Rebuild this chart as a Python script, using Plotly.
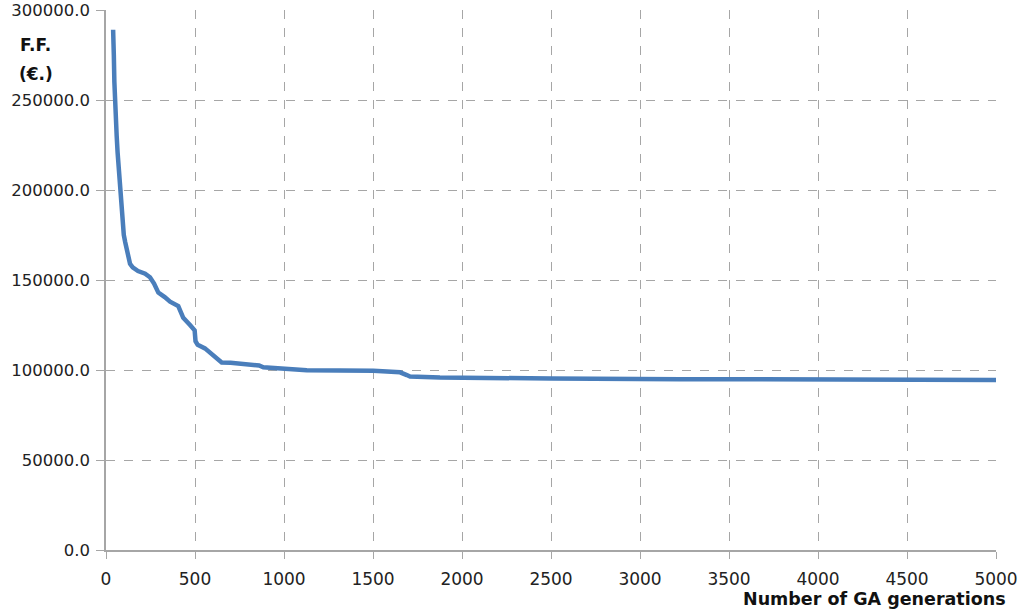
import plotly.graph_objects as go

generations = [40, 42, 44, 47, 50, 55, 60, 65, 70, 75, 80, 85, 90, 95, 100, 108, 116, 125, 135, 150,
               180, 220, 247, 270, 294, 330, 360, 406, 420, 434, 472, 498, 503, 515, 556, 580, 603,
               630, 650, 700, 809, 860, 884, 996, 1128, 1502, 1600, 1652, 1690, 1708, 1876, 2100,
               2500, 3225, 4000, 5000]
fitness = [289000, 285000, 275000, 260000, 250000, 240000, 230000, 221000, 213000, 205000, 199000,
           193000, 187000, 179000, 175000, 171000, 168000, 163000, 159000, 157000, 155000, 153500,
           151500, 148000, 143000, 140500, 138000, 135500, 132000, 129000, 125000, 122000, 116000,
           114000, 112000, 110000, 108000, 106000, 104200, 104000, 103300, 102500, 101500, 101000,
           99800, 99600, 99200, 98700, 97200, 96400, 95800, 95500, 95300, 94900, 94700, 94500]

x_ticks = list(range(0, 5001, 500))
y_ticks = list(range(0, 300001, 50000))
y_tick_labels = [f"{v:.1f}" for v in y_ticks]

fig = go.Figure()
fig.add_trace(go.Scatter(x=generations, y=fitness, mode="lines",
                         line=dict(color="#4A7EBB", width=4.5), showlegend=False))

grid_color = "#A6A6A6"
fig.update_layout(
    width=1024, height=611,
    margin=dict(l=106, r=28, t=10, b=61, autoexpand=False),
    paper_bgcolor="white", plot_bgcolor="white",
    font=dict(family="DejaVu Sans", size=16, color="#222222"),
    xaxis=dict(range=[0, 5000], tickvals=x_ticks, ticktext=[str(v) for v in x_ticks],
               showgrid=True, gridcolor=grid_color, griddash="dash", gridwidth=1,
               showline=True, linecolor=grid_color, linewidth=1.5, automargin=False,
               ticks="outside", ticklen=7, tickcolor=grid_color, zeroline=False,
               ticklabelstandoff=6, ticklabeloverflow="allow",
               tickfont=dict(size=17)),
    yaxis=dict(range=[0, 300000], tickvals=y_ticks, ticktext=y_tick_labels,
               showgrid=True, gridcolor=grid_color, griddash="dash", gridwidth=1,
               showline=True, linecolor=grid_color, linewidth=1.5, automargin=False,
               ticks="outside", ticklen=8, tickcolor=grid_color, zeroline=False,
               ticklabelstandoff=3, ticklabeloverflow="allow",
               tickfont=dict(size=16.5)),
    annotations=[
        dict(text="<b>F.F.</b>", xref="paper", yref="paper", x=-0.079, y=0.935,
             showarrow=False, font=dict(size=17, color="#111111"),
             xanchor="center", yanchor="middle"),
        dict(text="<b>(€.)</b>", xref="paper", yref="paper", x=-0.079, y=0.881,
             showarrow=False, font=dict(size=17, color="#111111"),
             xanchor="center", yanchor="middle"),
        dict(text="<b>Number of GA generations</b>", xref="paper", yref="paper",
             x=1.0135, y=-0.091, showarrow=False, xanchor="right", yanchor="middle",
             font=dict(size=17.5, color="#111111")),
    ],
)

fig.write_html("out.html", config={"displayModeBar": False},
               post_script="document.body.style.margin='0';document.body.style.overflow='hidden';")
